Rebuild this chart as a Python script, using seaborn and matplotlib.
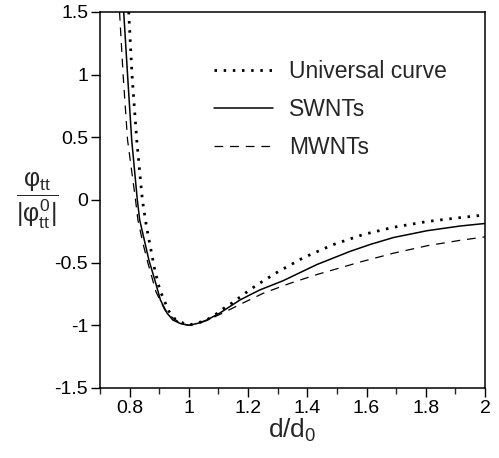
import numpy as np
import pandas as pd
import matplotlib
matplotlib.use("Agg")
import matplotlib.pyplot as plt
from matplotlib import ticker
import seaborn as sns

# values (d/d0, phi/|phi0|)
univ_x = [0.797, 0.808, 0.824, 0.843, 0.857, 0.885, 0.902, 0.919, 0.932, 0.953, 0.980,
          1.000, 1.014, 1.054, 1.088, 1.115, 1.146, 1.173, 1.203, 1.234, 1.298, 1.386,
          1.487, 1.589, 1.691, 1.806, 1.917, 2.000]
univ_y = [1.5, 1.0, 0.479, 0.0, -0.213, -0.559, -0.718, -0.814, -0.886, -0.950, -0.982,
          -1.000, -0.990, -0.966, -0.918, -0.870, -0.822, -0.775, -0.722, -0.672, -0.578, -0.462,
          -0.357, -0.276, -0.218, -0.172, -0.141, -0.120]

swnt_x = [0.780, 0.793, 0.807, 0.826, 0.834, 0.865, 0.885, 0.904, 0.926, 0.946, 0.973,
          1.000, 1.030, 1.061, 1.105, 1.173, 1.206, 1.240, 1.318, 1.433, 1.545, 1.613,
          1.691, 1.806, 1.917, 2.000]
swnt_y = [1.5, 1.0, 0.479, 0.0, -0.160, -0.479, -0.638, -0.798, -0.902, -0.958, -0.988,
          -1.000, -0.985, -0.958, -0.902, -0.798, -0.758, -0.718, -0.645, -0.515, -0.410, -0.355,
          -0.300, -0.245, -0.208, -0.188]

mwnt_x = [0.766, 0.778, 0.793, 0.820, 0.828, 0.845, 0.862, 0.889, 0.919, 0.946, 0.973,
          1.000, 1.030, 1.061, 1.115, 1.183, 1.251, 1.342, 1.433, 1.521, 1.579, 1.691,
          1.806, 1.917, 2.000]
mwnt_y = [1.5, 1.0, 0.479, 0.0, -0.160, -0.346, -0.505, -0.733, -0.878, -0.942, -0.985,
          -1.000, -0.988, -0.962, -0.902, -0.822, -0.745, -0.665, -0.595, -0.535, -0.495, -0.425,
          -0.365, -0.322, -0.295]

x_ticks = [0.8, 1.0, 1.2, 1.4, 1.6, 1.8, 2.0]
y_ticks = [-1.5, -1.0, -0.5, 0.0, 0.5, 1.0, 1.5]

sns.set_style("ticks")
plt.rcParams["font.family"] = ["Liberation Sans", "DejaVu Sans"]
plt.rcParams["mathtext.fontset"] = "custom"
plt.rcParams["mathtext.rm"] = "Liberation Sans"
plt.rcParams["mathtext.it"] = "Liberation Sans"
plt.rcParams["mathtext.sf"] = "Liberation Sans"
plt.rcParams["axes.unicode_minus"] = False

fig = plt.figure(figsize=(4.99, 4.58), dpi=100)
ax = fig.add_axes([0.2004, 0.153, 0.7715, 0.821])

df_u = pd.DataFrame({"x": univ_x, "y": univ_y})
df_s = pd.DataFrame({"x": swnt_x, "y": swnt_y})
df_m = pd.DataFrame({"x": mwnt_x, "y": mwnt_y})

sns.lineplot(data=df_u, x="x", y="y", ax=ax, color="black", lw=2.0,
             linestyle=(0, (0.9, 2.4)), sort=False, estimator=None,
             label="Universal curve")
sns.lineplot(data=df_s, x="x", y="y", ax=ax, color="black", lw=1.1,
             sort=False, estimator=None, label="SWNTs")
sns.lineplot(data=df_m, x="x", y="y", ax=ax, color="black", lw=0.9,
             linestyle=(0, (7, 5.5)), sort=False, estimator=None,
             label="MWNTs")

ax.set_xlim(0.7, 2.0)
ax.set_ylim(-1.5, 1.5)
ax.set_xticks(x_ticks)
ax.set_yticks(y_ticks)
ax.xaxis.set_minor_locator(ticker.MultipleLocator(0.1))
ax.xaxis.set_major_formatter(ticker.FormatStrFormatter("%g"))
ax.yaxis.set_major_formatter(ticker.FormatStrFormatter("%g"))
ax.tick_params(axis="both", which="major", direction="out", length=6.5, width=1.0,
               labelsize=14, colors="black", pad=2)
ax.tick_params(axis="x", which="minor", direction="out", length=4, width=1.0)
for s in ax.spines.values():
    s.set_linewidth(1.1)
    s.set_color("black")

ax.set_xlabel(r"d/d$_0$", fontsize=19, labelpad=0)
ax.set_ylabel(r"$\dfrac{\varphi_{tt}}{|\varphi_{tt}^{0}|}$", fontsize=18,
              rotation=0, labelpad=12, va="center")

leg = ax.legend(loc="upper left", bbox_to_anchor=(0.295, 0.872), frameon=False,
                fontsize=16.5, handlelength=2.58, handletextpad=0.7,
                labelspacing=0.66, borderpad=0, borderaxespad=0)

fig.savefig("out.png", dpi=100)
